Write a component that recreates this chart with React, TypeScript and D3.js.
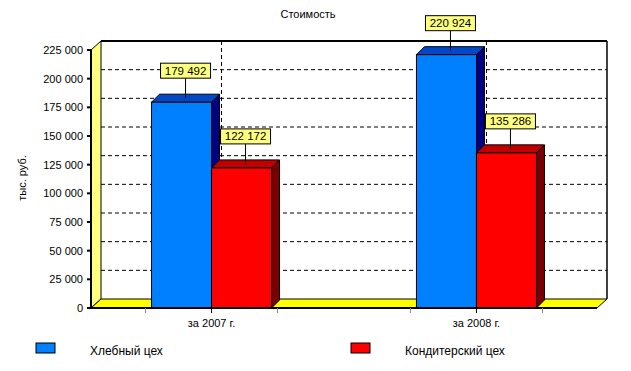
import * as d3 from "d3";

const categories = ["за 2007 г.", "за 2008 г."];
const seriesNames = ["Хлебный цех", "Кондитерский цех"];
const breadShop = [179492, 220924];
const confectionShop = [122172, 135286];
const yTickValues = [0, 25000, 50000, 75000, 100000, 125000, 150000, 175000, 200000, 225000];

const W = 631;
const H = 371;
const font = "'Liberation Sans', Arial, sans-serif";
const fmt = (v: number) => d3.format(",")(v).replace(/,/g, " ");

const left = 91;
const right = 597;
const bottom = 308;
const top = 50;
const wallDx = 10;
const wallDy = -9;
const barDx = 8;
const barDy = -8;
const barW = 60;

const colors = [
  { front: "#0080ff", top: "#0048c8", side: "#000080" },
  { front: "#ff0000", top: "#c00000", side: "#780000" },
];

export default function App() {
  const y = d3.scaleLinear().domain([0, 225000]).range([bottom, top]);
  const x = d3.scalePoint<string>().domain(categories).range([left, right]).padding(0.455);
  const series = [breadShop, confectionShop];

  const bx0 = left + wallDx;
  const bx1 = right + wallDx;
  const by = (v: number) => y(v) + wallDy;

  return (
    <svg width={W} height={H} style={{ position: "absolute", left: 0, top: 0 }} fontFamily={font}>
      <rect width={W} height={H} fill="#fff" />
      <text x={308} y={18} fontSize={11} textAnchor="middle">Стоимость</text>

      {/* back wall */}
      <rect x={bx0} y={by(225000)} width={bx1 - bx0} height={by(0) - by(225000)} fill="#fff" />
      {yTickValues.filter((v) => v > 0 && v < 225000).map((v) => (
        <g key={v}>
          <line x1={bx0} x2={bx1} y1={by(v)} y2={by(v)} stroke="#000" strokeDasharray="4,3" />
          <line x1={left} y1={y(v)} x2={bx0} y2={by(v)} stroke="#000" strokeDasharray="3,2" />
        </g>
      ))}
      {categories.map((c) => (
        <line key={c} x1={x(c)! + wallDx} x2={x(c)! + wallDx} y1={by(225000)} y2={by(0)} stroke="#000" strokeDasharray="4,3" />
      ))}
      <line x1={bx0} x2={bx1} y1={by(225000)} y2={by(225000)} stroke="#000" strokeWidth={2} />
      <line x1={bx1} x2={bx1} y1={by(225000)} y2={by(0)} stroke="#000" strokeWidth={1.5} />

      {/* side wall */}
      <polygon
        points={`${left},${y(0)} ${left},${y(225000)} ${bx0},${by(225000)} ${bx0},${by(0)}`}
        fill="#ffff80" stroke="#000" strokeWidth={1}
      />
      {/* floor */}
      <polygon
        points={`${left},${y(0)} ${right},${y(0)} ${bx1},${by(0)} ${bx0},${by(0)}`}
        fill="#ffff00" stroke="#000" strokeWidth={1}
      />

      {/* bars */}
      {categories.map((c, i) =>
        series.map((s, k) => {
          const x0 = x(c)! - barW + k * barW;
          const x1 = x0 + barW;
          const yt = y(s[i]);
          const yb = y(0);
          const col = colors[k];
          return (
            <g key={c + k} stroke="#000" strokeWidth={1}>
              <polygon points={`${x1},${yt} ${x1 + barDx},${yt + barDy} ${x1 + barDx},${yb + barDy} ${x1},${yb}`} fill={col.side} />
              <polygon points={`${x0},${yt} ${x0 + barDx},${yt + barDy} ${x1 + barDx},${yt + barDy} ${x1},${yt}`} fill={col.top} />
              <rect x={x0} y={yt} width={barW} height={yb - yt} fill={col.front} />
            </g>
          );
        })
      )}

      {/* axis */}
      <line x1={left} x2={left} y1={y(225000)} y2={y(0) + 1} stroke="#000" strokeWidth={2} />
      <line x1={left} x2={right} y1={y(0)} y2={y(0)} stroke="#000" strokeWidth={2} />
      {yTickValues.map((v) => (
        <g key={v}>
          <line x1={left - 4} x2={left} y1={y(v)} y2={y(v)} stroke="#000" strokeWidth={2} />
          <text x={83} y={y(v) + 4} fontSize={11} textAnchor="end">{fmt(v)}</text>
        </g>
      ))}
      {categories.map((c) => (
        <g key={c}>
          {[-66, 0, 66].map((o) => (
            <line key={o} x1={x(c)! + o} x2={x(c)! + o} y1={y(0)} y2={y(0) + 5} stroke={o === 0 ? "#000" : "#888"} />
          ))}
          <text x={x(c)!} y={327} fontSize={11} textAnchor="middle">{c}</text>
        </g>
      ))}
      <text transform={`translate(26,178) rotate(-90)`} fontSize={11} textAnchor="middle">тыс. руб.</text>

      {/* data labels */}
      {categories.map((c, i) =>
        series.map((s, k) => {
          const lx = x(c)! - barW + k * barW + barW / 2 + barDx / 2;
          const ly = y(s[i]) + barDy / 2;
          const boxB = ly - 20;
          return (
            <g key={"l" + c + k}>
              <line x1={lx} x2={lx} y1={ly} y2={boxB} stroke="#000" />
              <rect x={lx - 25} y={boxB - 15} width={50} height={15} fill="#ffff80" stroke="#000" />
              <text x={lx} y={boxB - 3.5} fontSize={11.5} textAnchor="middle">{fmt(s[i])}</text>
            </g>
          );
        })
      )}

      {/* legend */}
      {seriesNames.map((n, k) => {
        const sx = k === 0 ? 36 : 351;
        return (
          <g key={n}>
            <rect x={sx} y={343} width={19} height={10} fill={colors[k].front} stroke="#000" />
            <text x={sx + 54} y={355} fontSize={12} fill="#000">{n}</text>
          </g>
        );
      })}
    </svg>
  );
}
